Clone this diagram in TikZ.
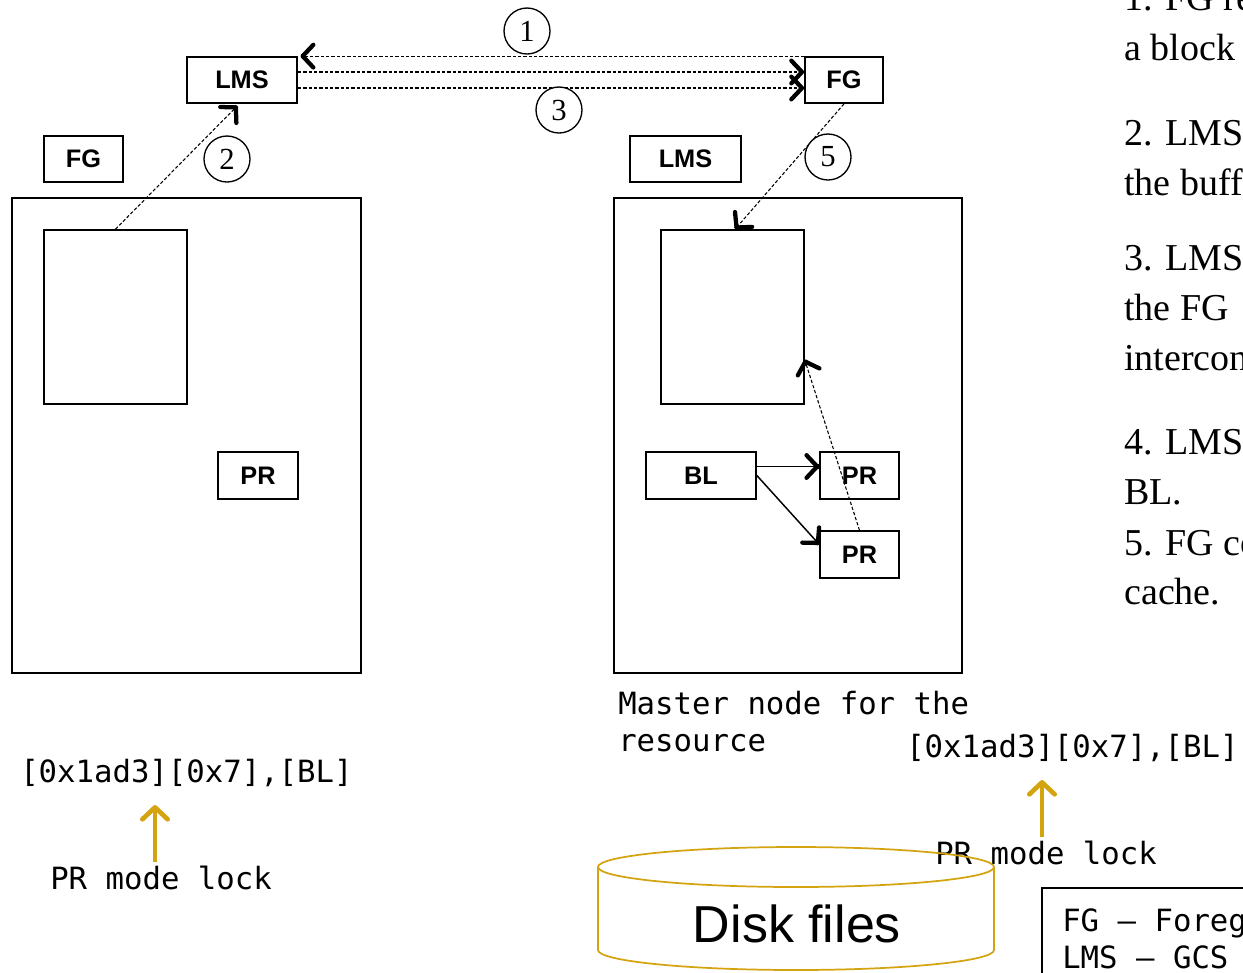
\documentclass[tikz,border=0pt]{standalone}
\usepackage{fontspec}
\setmainfont{Liberation Serif}
\setsansfont{Liberation Sans}
\setmonofont{DejaVu Sans Mono}
\usetikzlibrary{arrows.meta, calc}
\definecolor{lockgold}{RGB}{212,163,16}
\newcommand{\barbline}[3]{\draw[#1] (#2) -- (#3);
  \draw[tipend] ($(#3)!0.5pt!(#2)$) -- (#3);}

\begin{document}
\begin{tikzpicture}[x=0.75pt, y=-0.75pt,
  box/.style={rectangle, draw, line width=1.3pt, inner sep=0pt, minimum height=34.5pt,
    font=\sffamily\bfseries\fontsize{19}{19}\selectfont},
  cache/.style={rectangle, draw, line width=1.3pt, minimum width=107pt, minimum height=130.5pt},
  num/.style={circle, draw, fill=white, line width=1pt, minimum size=34.5pt, inner sep=0pt,
    font=\fontsize{23}{23}\selectfont},
  tipend/.style={line width=3.2pt, -{Straight Barb[length=8pt, width=17pt, round]}},
  msg/.style={line width=0.8pt, dash pattern=on 2.5pt off 1.5pt},
  link/.style={line width=1.1pt},
  lock/.style={lockgold, line width=3.5pt, -{Straight Barb[length=9pt, width=19pt, round]}},
  code/.style={anchor=west, inner sep=0pt, align=left, font=\ttfamily\fontsize{23}{27.75}\selectfont},
  note/.style={anchor=base west, inner sep=0pt, font=\fontsize{28.5}{28.5}\selectfont}
]
\useasboundingbox (0,0) rectangle (1243,972);

\draw[line width=1.3pt] (12,198) rectangle (361,673);
\draw[line width=1.3pt] (614,198) rectangle (962,673);

\node[box, minimum width=82.5pt] (lmsA) at (242,80) {LMS};
\node[box, minimum width=58.5pt] (fgR) at (844,80) {FG};
\node[box, minimum width=59pt] (fgL) at (83.5,159) {FG};
\node[box, minimum width=83pt] (lmsR) at (685.5,159) {LMS};
\node[cache] (cacheL) at (115.5,317) {};
\node[cache] (cacheR) at (732.5,317) {};
\node[box, minimum width=60pt, minimum height=35pt] (prL) at (258,475.5) {PR};
\node[box, minimum width=82.5pt, minimum height=35pt] (bl) at (701,475.5) {BL};
\node[box, minimum width=59pt, minimum height=35pt] (prA) at (859.5,475.5) {PR};
\node[box, minimum width=59pt, minimum height=35pt] (prB) at (859.5,554.5) {PR};

\barbline{msg}{fgR.north west}{[xshift=2pt]lmsA.north east}
\barbline{msg}{[yshift=6pt]lmsA.east}{[yshift=6pt]fgR.west}
\barbline{msg}{[yshift=-6pt]lmsA.east}{[yshift=-6pt]fgR.west}
\barbline{msg}{cacheL.north}{[xshift=-3.5pt, yshift=-1.5pt]lmsA.south}
\barbline{msg}{fgR.south}{[xshift=2pt]cacheR.north}
\barbline{link}{[yshift=6.75pt]bl.east}{[yshift=6.75pt]prA.west}
\barbline{link}{bl.east}{[yshift=7.5pt]prB.west}
\barbline{msg}{prB.north}{[yshift=-32pt]cacheR.east}

\node[num] (n1) at (527,31) {1};
\node[num] (n3) at (559,110) {3};
\node[num] (n2) at (227,159) {2};
\node[num] (n5) at (828,157) {5};

\node[code] (addrL) at (20,773) {[0x1ad3][0x7],[BL]};
\node[code] (lockL) at (50,878) {PR mode lock};
\node[code] (master) at (618,722) {Master node for the\\resource};
\node[code] (addrR) at (906,748) {[0x1ad3][0x7],[BL]};
\node[code] (lockR) at (935,853) {PR mode lock};
\coordinate (baseL) at (155,862);
\coordinate (tipL) at (155,805);
\coordinate (baseR) at (1042,837);
\coordinate (tipR) at (1042,780);
\draw[lock] (baseL) -- (tipL);
\draw[lock] (baseR) -- (tipR);

\draw[lockgold, line width=1.3pt] (796,867) ellipse [x radius=148.5pt, y radius=15pt];
\draw[lockgold, line width=1.3pt] (598,867) -- (598,950) arc [start angle=180, end angle=360,
  x radius=148.5pt, y radius=15pt] -- (994,867);
\node[font=\sffamily\fontsize{39}{39}\selectfont, inner sep=0pt] (disk) at (797,924) {Disk files};

\draw[line width=1.3pt] (1042,1000) -- (1042,888) -- (1300,888);
\node[code] (legend) at (1062,939) {FG – Foreground\\LMS – GCS};

\foreach \y/\txt in {10/1. FG requests, 60/a block, 145/2. LMS, 195/the buffer, 270/3. LMS,
  320/the FG, 370/interconnect, 454/4. LMS, 504/BL., 555/5. FG copies, 604/cache.}
  \node[note] at (1124,\y) {\txt};
\end{tikzpicture}
\end{document}
